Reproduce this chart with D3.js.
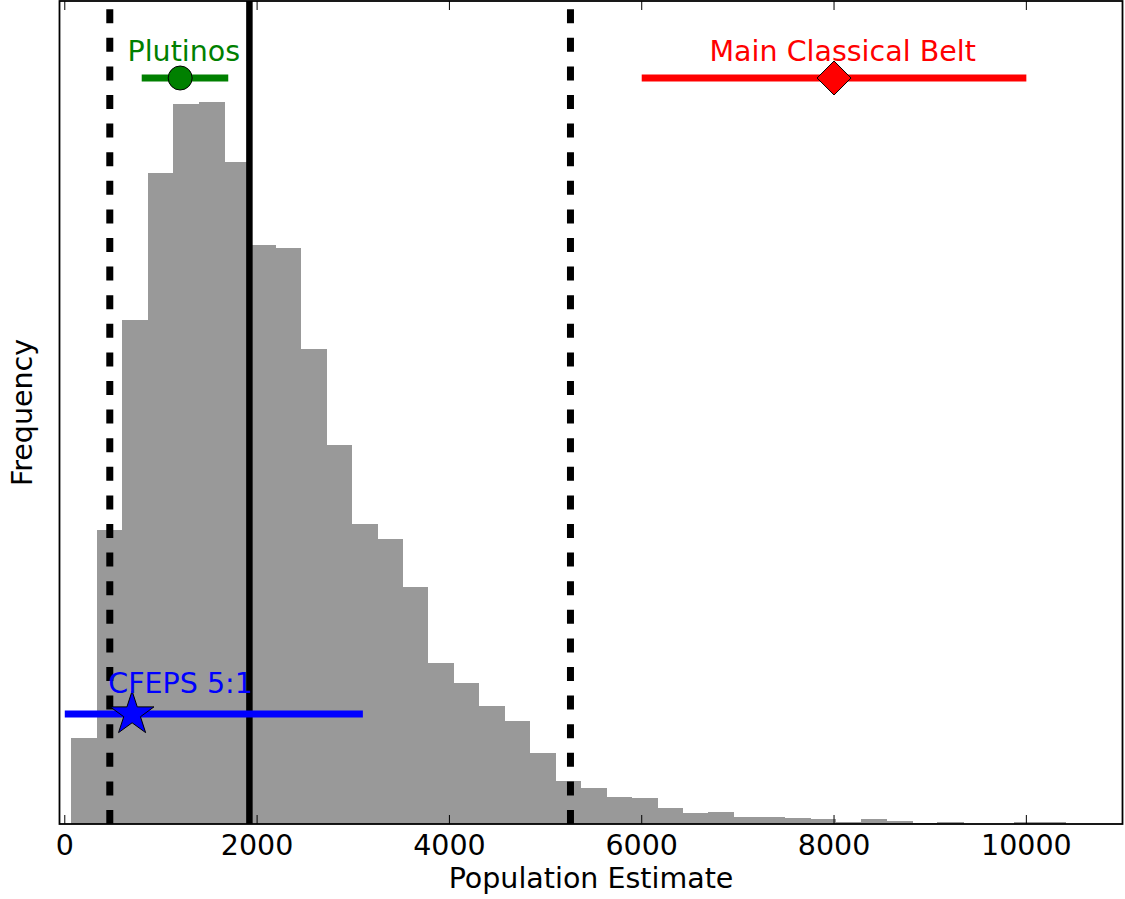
<!DOCTYPE html>
<html>
<head>
<meta charset="utf-8">
<script src="https://cdn.jsdelivr.net/npm/d3@7"></script>
<style>
  body { margin: 0; background: #fff; }
  text { font-family: "DejaVu Sans", sans-serif; }
</style>
</head>
<body>
<div id="chart"></div>
<script>
// Histogram of population estimates (regular bins), counts.
const binStart = 66;
const binWidth = 265;
const counts = [86, 294, 504, 651, 720, 722, 662, 579, 576, 475,
                379, 300, 285, 237, 161, 141, 118, 103, 71, 43,
                36, 27, 26, 16, 11, 12, 7, 7, 6, 5,
                2, 5, 3, 1, 2, 0, 0, 2, 2];

// Reference lines: dashed bounds and solid median.
const dashedLines = [468, 5259];
const medianLine = 1920;

// Published estimates with ranges.
const estNames = ['Plutinos', 'Main Classical Belt', 'CFEPS 5:1'];
const estValue = [1200, 8000, 700];
const estLow = [800, 6000, 0];
const estHigh = [1700, 10000, 3100];
const estLevel = [746, 746, 110];
const estLabelX = [1238, 8090, 1204];
const estLabelY = [763, 763, 131];
const estColor = ['green', 'red', 'blue'];
const estMarker = ['circle', 'diamond', 'star'];

const xTicks = [0, 2000, 4000, 6000, 8000, 10000];

const width = 1125, height = 899;
const mLeft = 59.5, mRight = 1122.5, mTop = 1, mBottom = 824;
const fontSize = '28.5px';

const svg = d3.select('#chart')
  .append('svg')
    .attr('width', width)
    .attr('height', height);

const x = d3.scaleLinear().domain([-55, 11000]).range([mLeft, mRight]);
const y = d3.scaleLinear().domain([0, 823]).range([mBottom, mTop]);

// bars
svg.append('g')
  .attr('shape-rendering', 'crispEdges')
  .selectAll('rect')
  .data(counts)
  .enter()
  .append('rect')
    .attr('x', (d, i) => x(binStart + i * binWidth))
    .attr('width', (d, i) => x(binStart + (i + 1) * binWidth) - x(binStart + i * binWidth) + 0.6)
    .attr('y', (d) => y(d))
    .attr('height', (d) => y(0) - y(d))
    .style('fill', '#999999');

// vertical lines
svg.append('g')
  .selectAll('line')
  .data(dashedLines)
  .enter()
  .append('line')
    .attr('x1', (d) => x(d)).attr('x2', (d) => x(d))
    .attr('y1', mBottom).attr('y2', mTop)
    .attr('stroke', 'black')
    .attr('stroke-width', 7)
    .attr('stroke-dasharray', '14,14.6');

svg.append('line')
  .attr('x1', x(medianLine)).attr('x2', x(medianLine))
  .attr('y1', mBottom).attr('y2', mTop)
  .attr('stroke', 'black')
  .attr('stroke-width', 6.5);

// estimates
function markerPath(kind) {
  if (kind === 'circle') return 'M12,0A12,12 0 1,1 -12,0A12,12 0 1,1 12,0Z';
  if (kind === 'diamond') return 'M0,-17L17,0L0,17L-17,0Z';
  let R = 23, r = R * 0.381966, pts = [];
  for (let k = 0; k < 10; k++) {
    let a = -Math.PI / 2 + k * Math.PI / 5;
    let rad = k % 2 === 0 ? R : r;
    pts.push([rad * Math.cos(a), rad * Math.sin(a)]);
  }
  return 'M' + pts.map((p) => p[0].toFixed(2) + ',' + p[1].toFixed(2)).join('L') + 'Z';
}

const est = svg.append('g');
estNames.forEach((name, i) => {
  est.append('line')
    .attr('x1', x(estLow[i])).attr('x2', x(estHigh[i]))
    .attr('y1', y(estLevel[i])).attr('y2', y(estLevel[i]))
    .attr('stroke', estColor[i])
    .attr('stroke-width', 7);
  est.append('path')
    .attr('d', markerPath(estMarker[i]))
    .attr('transform', 'translate(' + x(estValue[i]) + ',' + y(estLevel[i]) + ')')
    .style('fill', estColor[i])
    .attr('stroke', 'black')
    .attr('stroke-width', 1);
  est.append('text')
    .attr('x', x(estLabelX[i]))
    .attr('y', y(estLabelY[i]))
    .style('text-anchor', 'middle')
    .style('font-size', fontSize)
    .style('fill', estColor[i])
    .text(name);
});

// frame
svg.append('rect')
  .attr('x', mLeft).attr('y', mTop)
  .attr('width', mRight - mLeft).attr('height', mBottom - mTop)
  .style('fill', 'none')
  .attr('stroke', 'black')
  .attr('stroke-width', 1.8);

// ticks, inward on bottom and top
const ticks = svg.append('g');
xTicks.forEach((t) => {
  ticks.append('line')
    .attr('x1', x(t)).attr('x2', x(t))
    .attr('y1', mBottom).attr('y2', mBottom - 9)
    .attr('stroke', 'black').attr('stroke-width', 1);
  ticks.append('line')
    .attr('x1', x(t)).attr('x2', x(t))
    .attr('y1', mTop).attr('y2', mTop + 9)
    .attr('stroke', 'black').attr('stroke-width', 1);
  ticks.append('text')
    .attr('x', x(t))
    .attr('y', 855)
    .style('text-anchor', 'middle')
    .style('font-size', fontSize)
    .text(t);
});

svg.append('text')
  .attr('x', (mLeft + mRight) / 2)
  .attr('y', 888)
  .style('text-anchor', 'middle')
  .style('font-size', fontSize)
  .text('Population Estimate');

svg.append('text')
  .attr('transform', 'translate(32,' + ((mTop + mBottom) / 2) + ') rotate(-90)')
  .style('text-anchor', 'middle')
  .style('font-size', fontSize)
  .text('Frequency');
</script>
</body>
</html>
